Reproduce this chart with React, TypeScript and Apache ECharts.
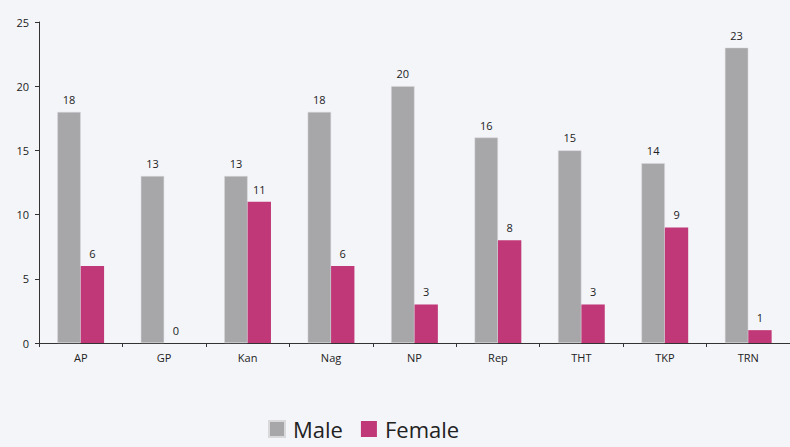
import React, { useEffect, useRef } from "react";
import * as echarts from "echarts";

const categories = ["AP", "GP", "Kan", "Nag", "NP", "Rep", "THT", "TKP", "TRN"];
const maleValues = [18, 13, 13, 18, 20, 16, 15, 14, 23];
const femaleValues = [6, 0, 11, 6, 3, 8, 3, 9, 1];
const yTicks = { min: 0, max: 25, interval: 5 };

const FONT = "'Open Sans', 'Noto Sans', sans-serif";

export default function App() {
  const ref = useRef<HTMLDivElement>(null);
  useEffect(() => {
    const chart = echarts.init(ref.current!, undefined, { renderer: "svg" });
    chart.setOption({
      animation: false,
      backgroundColor: "#f4f5f9",
      textStyle: { fontFamily: FONT },
      grid: { left: 39, right: 0, top: 22, bottom: 104, containLabel: false },
      legend: {
        left: 268,
        top: 418,
        padding: 0,
        itemWidth: 16,
        itemHeight: 16,
        itemGap: 18,
        icon: "rect",
        textStyle: { fontSize: 22, lineHeight: 22, color: "#222", fontFamily: FONT, padding: [0, 0, 0, 3] },
        data: ["Male", "Female"],
      },
      xAxis: {
        type: "category",
        data: categories,
        axisLine: { lineStyle: { color: "#333", width: 1 } },
        axisTick: { show: true, alignWithLabel: false, length: 4, lineStyle: { color: "#333" } },
        axisLabel: { color: "#222", fontSize: 11, margin: 9, fontFamily: FONT },
      },
      yAxis: {
        type: "value",
        min: yTicks.min,
        max: yTicks.max,
        interval: yTicks.interval,
        axisLine: { show: true, lineStyle: { color: "#333", width: 1 } },
        axisTick: { show: true, length: 4, lineStyle: { color: "#333" } },
        axisLabel: { color: "#222", fontSize: 11, margin: 10, fontFamily: FONT },
        splitLine: { show: false },
      },
      series: [
        {
          name: "Male",
          type: "bar",
          data: maleValues,
          barGap: "0%",
          barCategoryGap: "44%",
          itemStyle: { color: "#a7a7aa", borderColor: "#d9d9dc", borderWidth: 0.5 },
          label: { show: true, position: "top", color: "#222", fontSize: 11, distance: 7, fontFamily: FONT },
        },
        {
          name: "Female",
          type: "bar",
          data: femaleValues,
          itemStyle: { color: "#c03878" },
          label: { show: true, position: "top", color: "#222", fontSize: 11, distance: 7, fontFamily: FONT },
        },
      ],
    });
    return () => chart.dispose();
  }, []);
  return <div ref={ref} style={{ width: 790, height: 447, position: "absolute", left: 0, top: 0 }} />;
}
